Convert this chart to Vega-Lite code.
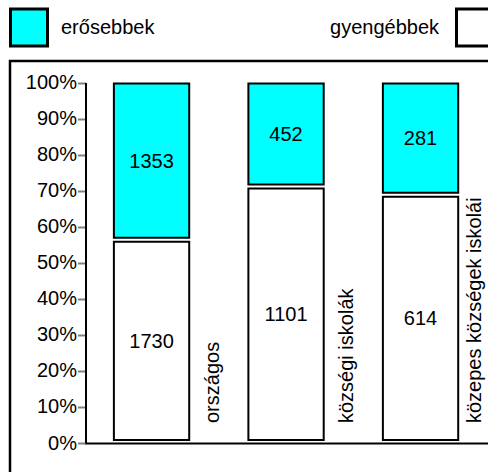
{
  "$schema": "https://vega.github.io/schema/vega-lite/v6.json",
  "padding": {"left": 4, "top": 0, "right": 0, "bottom": 0},
  "config": {"font": "Liberation Sans"},
  "bounds": "flush",
  "spacing": 6,
  "resolve": {"scale": {"x": "independent", "y": "independent"}},
  "datasets": {
    "tanulok": [
      {"category": "országos", "series": "gyengébbek", "count": 1730},
      {"category": "országos", "series": "erősebbek", "count": 1353},
      {"category": "községi iskolák", "series": "gyengébbek", "count": 1101},
      {"category": "községi iskolák", "series": "erősebbek", "count": 452},
      {"category": "közepes községek iskolái", "series": "gyengébbek", "count": 614},
      {"category": "közepes községek iskolái", "series": "erősebbek", "count": 281}
    ]
  },
  "vconcat": [
    {
      "width": 480,
      "height": 55,
      "view": {"stroke": null},
      "data": {"name": "tanulok"},
      "transform": [{"filter": "datum.category === 'országos'"}],
      "encoding": {
        "x": {"field": "series", "type": "nominal", "scale": {"type": "point", "range": [19, 465], "padding": 0}, "axis": null}
      },
      "layer": [
        {
          "mark": {"type": "point", "shape": "square", "size": 1369, "filled": true, "stroke": "black", "strokeWidth": 3, "opacity": 1},
          "encoding": {
            "fill": {"field": "series", "type": "nominal", "scale": {"domain": ["erősebbek", "gyengébbek"], "range": ["#00FFFF", "#FFFFFF"]}, "legend": null}
          }
        },
        {
          "transform": [{"filter": "datum.series === 'erősebbek'"}],
          "mark": {"type": "text", "align": "left", "baseline": "middle", "dx": 32, "fontSize": 20, "color": "black"},
          "encoding": {"text": {"field": "series"}}
        },
        {
          "transform": [{"filter": "datum.series === 'gyengébbek'"}],
          "mark": {"type": "text", "align": "right", "baseline": "middle", "dx": -36, "fontSize": 20, "color": "black"},
          "encoding": {"text": {"field": "series"}}
        }
      ]
    },
    {
      "width": 480,
      "height": 414,
      "view": {"stroke": "black", "strokeWidth": 2.5},
      "data": {"name": "tanulok"},
      "transform": [
        {"stack": "count", "groupby": ["category"], "sort": [{"field": "series", "order": "descending"}], "offset": "normalize", "as": ["y0", "y1"]},
        {"calculate": "(datum.y0 + datum.y1) / 2", "as": "ymid"}
      ],
      "encoding": {
        "x": {
          "field": "category", "type": "nominal", "sort": null,
          "scale": {"type": "band", "range": [74.3, 477.8], "paddingInner": 0.44, "paddingOuter": 0.22},
          "axis": {"orient": "bottom", "offset": -32, "labels": false, "ticks": false, "title": null, "domainColor": "black", "domainWidth": 2, "grid": false}
        }
      },
      "layer": [
        {
          "mark": {"type": "bar", "stroke": "black", "strokeWidth": 2, "yOffset": 1, "y2Offset": -3},
          "encoding": {
            "y": {
              "field": "y1", "type": "quantitative",
              "scale": {"domain": [0, 1], "range": [382, 21.5], "nice": false, "zero": false},
              "axis": {
                "orient": "left", "offset": -75.5, "values": [0, 0.1, 0.2, 0.3, 0.4, 0.5, 0.6, 0.7, 0.8, 0.9, 1],
                "format": ".0%", "title": null, "grid": false, "labelFontSize": 20, "labelColor": "black",
                "labelPadding": 1, "tickSize": 8, "tickColor": "#808080", "tickWidth": 2,
                "domainColor": "black", "domainWidth": 2, "labelFont": "Liberation Sans"
              }
            },
            "y2": {"field": "y0"},
            "fill": {"field": "series", "type": "nominal", "scale": {"domain": ["erősebbek", "gyengébbek"], "range": ["#00FFFF", "#FFFFFF"]}, "legend": null}
          }
        },
        {
          "mark": {"type": "text", "fontSize": 20, "baseline": "middle", "color": "black"},
          "encoding": {
            "y": {"field": "ymid", "type": "quantitative"},
            "text": {"field": "count", "type": "quantitative", "format": "d"}
          }
        },
        {
          "transform": [{"filter": "datum.series === 'gyengébbek'"}],
          "mark": {"type": "text", "angle": 270, "align": "left", "baseline": "middle", "fontSize": 20, "color": "black", "dx": 20, "dy": {"expr": "datum.category === 'közepes községek iskolái' ? 54 : 61"}},
          "encoding": {
            "y": {"datum": 0, "type": "quantitative"},
            "text": {"field": "category"}
          }
        }
      ]
    }
  ]
}
